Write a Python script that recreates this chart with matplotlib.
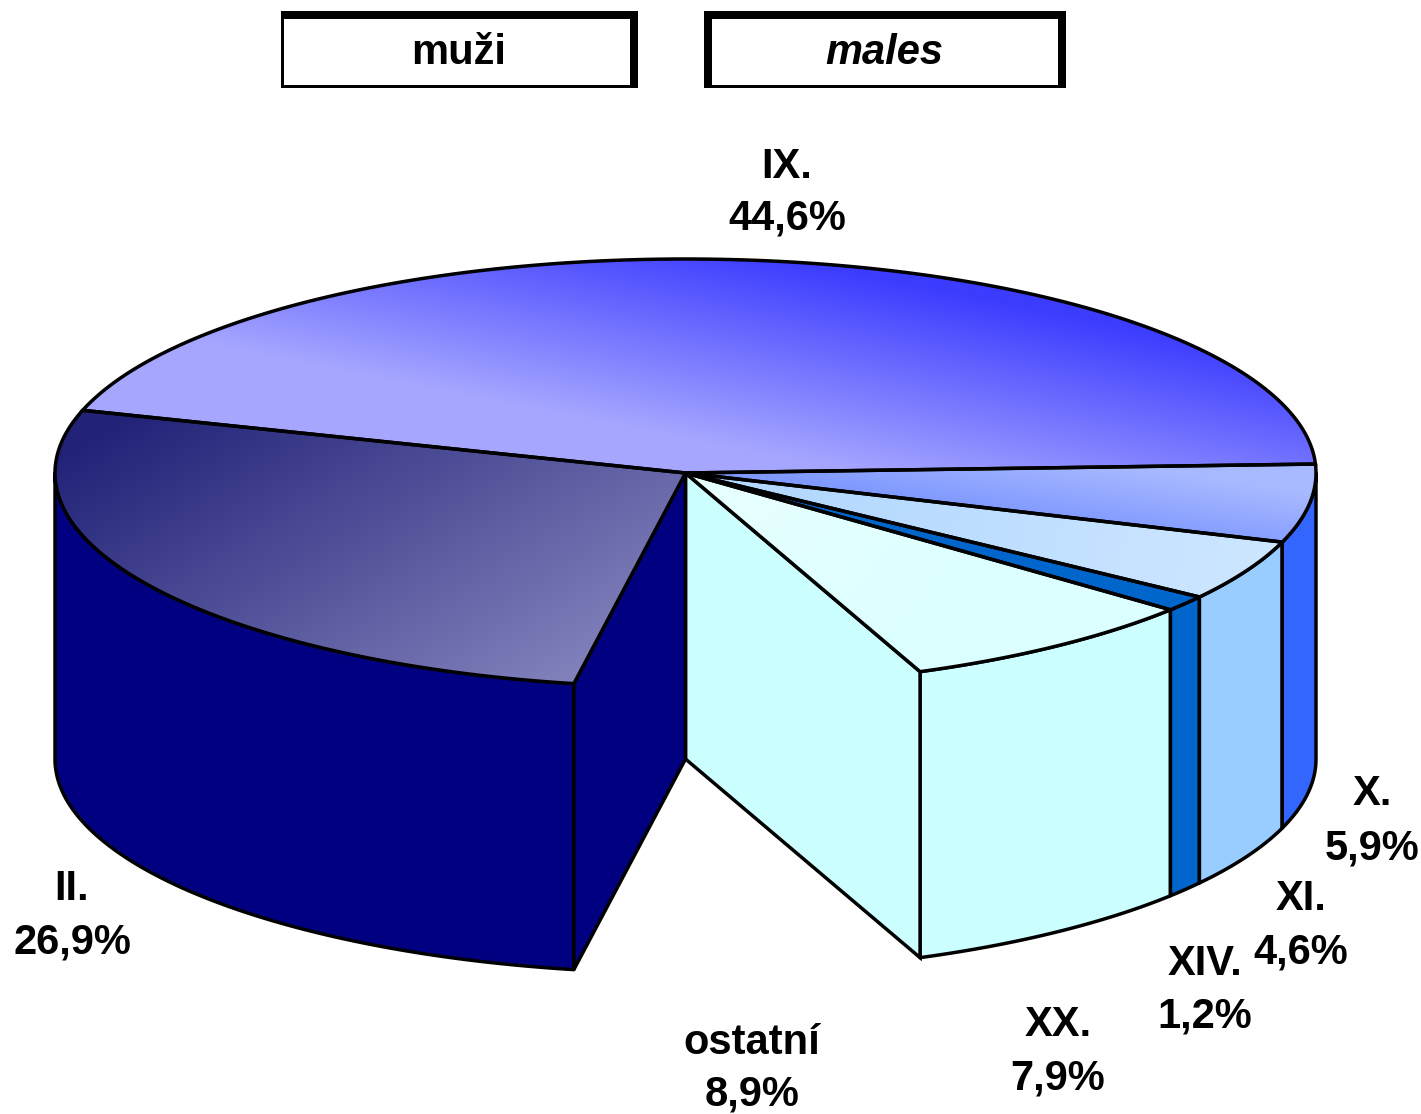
import numpy as np
import matplotlib
matplotlib.use('Agg')
import matplotlib.pyplot as plt
from matplotlib.colors import to_rgb
from matplotlib.patches import Polygon, Rectangle

categories = ['IX.', 'II.', 'ostatní', 'XX.', 'XIV.', 'XI.', 'X.']
values = [44.6, 26.9, 8.9, 7.9, 1.2, 4.6, 5.9]
side_colors = ['#3333ff', '#000080', None, '#ccffff', '#0066cc', '#99ccff', '#3366ff']
# top colour start, end and gradient axis (None = flat)
top_grads = [
    ('#a6a6ff', '#3c3cff', (650, 430), (688, 238)),
    ('#222278', '#8080bb', (100, 430), (333, 814)),
    None,
    ('#dcffff', '#e6ffff', (900, 650), (760, 520)),
    ('#0066cc', '#0066cc', (0, 0), (1, 1)),
    ('#b4d8ff', '#cce6ff', (800, 480), (1250, 560)),
    ('#a8baff', '#8099ff', (1200, 475), (1190, 540)),
]
label_pos = [(787, 167, 218), (72, 889, 943), (752, 1043, 1095), (1058, 1025, 1079),
             (1205, 964, 1017), (1301, 899, 952), (1372, 794, 848)]

cx, cy, rx, ry, depth = 685.5, 473, 630.5, 214, 286
start = 2.4
lw = 2.5

plt.rcParams['font.family'] = ['Liberation Sans', 'DejaVu Sans']
fig = plt.figure(figsize=(14.21, 11.14), dpi=100)
ax = fig.add_axes([0, 0, 1, 1])


def rim(a1, a2, dy=0):
    t = np.radians(np.linspace(a1, a2, max(int(abs(a2 - a1) * 3), 2)))
    return np.column_stack([cx + rx * np.cos(t), cy + dy - ry * np.sin(t)])


def grad_fill(poly, c0, c1, p0, p1, z):
    xx, yy = np.meshgrid(np.arange(0, 1421, 2.0), np.arange(0, 1114, 2.0))
    d = np.array(p1, float) - np.array(p0, float)
    t = ((xx - p0[0]) * d[0] + (yy - p0[1]) * d[1]) / (d @ d)
    t = np.clip(t, 0, 1)[..., None]
    img = np.array(to_rgb(c0)) * (1 - t) + np.array(to_rgb(c1)) * t
    im = ax.imshow(img, extent=(0, 1421, 1114, 0), aspect='auto', zorder=z, interpolation='bilinear')
    im.set_clip_path(Polygon(poly, transform=ax.transData))


# angle limits of each slice from the values
angles = start + np.cumsum([0] + values) * 3.6

# outer walls
for i, col in enumerate(side_colors):
    if col is None:
        continue
    a1, a2 = max(angles[i], 180), min(angles[i + 1], 360)
    if a2 <= a1:
        continue
    wall = np.vstack([rim(a1, a2), rim(a2, a1, depth)])
    ax.add_patch(Polygon(wall, fc=col, ec='black', lw=lw, joinstyle='round', zorder=2))

# cut faces beside the missing slice
gap = categories.index('ostatní')
for a, col in ((angles[gap], side_colors[gap - 1]), (angles[gap + 1], side_colors[gap + 1])):
    p = rim(a, a)[0]
    face = [(cx, cy), p, (p[0], p[1] + depth), (cx, cy + depth)]
    ax.add_patch(Polygon(face, fc=col, ec='black', lw=lw, zorder=3 if col == '#000080' else 2.5))

# top faces
for i, g in enumerate(top_grads):
    if g is None:
        continue
    poly = np.vstack([[(cx, cy)], rim(angles[i], angles[i + 1])])
    grad_fill(poly, g[0], g[1], g[2], g[3], 4)
    ax.add_patch(Polygon(poly, fc='none', ec='black', lw=lw, zorder=5))

# header boxes
for x0, x1, xi0, xi1, txt, st in ((281, 638, 284, 630, 'muži', 'normal'), (704, 1066, 712, 1058, 'males', 'italic')):
    ax.add_patch(Rectangle((x0, 11), x1 - x0, 77, fc='black', ec='none', zorder=1))
    ax.add_patch(Rectangle((xi0, 19), xi1 - xi0, 66, fc='white', ec='none', zorder=1.5))
    ax.text((x0 + x1) / 2 - 1, 53, txt, ha='center', va='center', fontsize=30, fontweight='bold',
            fontstyle=st, zorder=6)

# labels
for name, v, (x, y1, y2) in zip(categories, values, label_pos):
    ax.text(x, y1, name, ha='center', va='center', fontsize=30, fontweight='bold', zorder=6)
    ax.text(x, y2, f'{v:.1f}%'.replace('.', ','), ha='center', va='center', fontsize=30,
            fontweight='bold', zorder=6)

ax.set_xlim(0, 1421)
ax.set_ylim(1114, 0)
ax.axis('off')
fig.savefig('out.png', dpi=100, facecolor='white')
